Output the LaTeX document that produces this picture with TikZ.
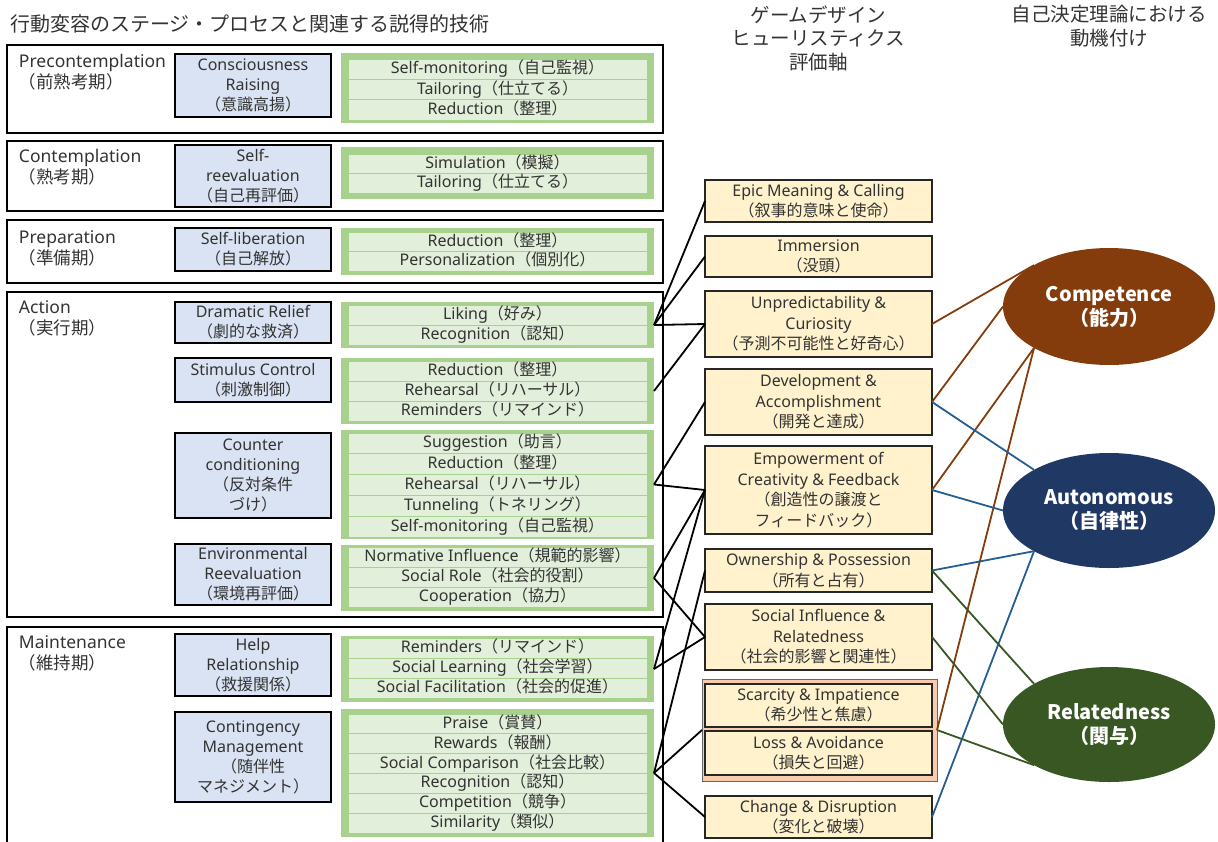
\documentclass[tikz,border=0pt]{standalone}
\usepackage{fontspec}
\setmainfont{Noto Sans}
\newfontfamily\latfont{Noto Sans}
\newfontfamily\jpfont{Noto Sans CJK JP}
\usetikzlibrary{shapes.geometric}
\XeTeXinterchartokenstate=1
\newXeTeXintercharclass\JPclass
\makeatletter
\newcount\jp@c
\def\jp@range#1#2{\jp@c=#1\relax\loop\XeTeXcharclass\jp@c=\JPclass\relax\ifnum\jp@c<#2\relax\advance\jp@c by 1\repeat}
\jp@range{"3000}{"30FF}
\jp@range{"4E00}{"9FFF}
\jp@range{"FF00}{"FFEF}
\makeatother
\XeTeXinterchartoks 0 \JPclass = {\jpfont}
\XeTeXinterchartoks 4095 \JPclass = {\jpfont}
\XeTeXinterchartoks \JPclass 0 = {\latfont}
\XeTeXinterchartoks \JPclass 4095 = {\latfont}

\definecolor{txtc}{HTML}{333333}
\definecolor{procfill}{HTML}{DAE3F3}
\definecolor{grpgreen}{HTML}{A9D18E}
\definecolor{rowgreen}{HTML}{E2EFDA}
\definecolor{gamefill}{HTML}{FFF2CC}
\definecolor{pairfill}{HTML}{F8CBAD}
\definecolor{compc}{HTML}{843C0C}
\definecolor{autoc}{HTML}{203864}
\definecolor{relc}{HTML}{385723}
\definecolor{bluelink}{HTML}{255E91}

\tikzset{
  every node/.style={text=txtc, inner sep=0pt, outer sep=0pt},
  stagebox/.style={draw=black, line width=1.6pt, minimum width=656pt},
  stagelbl/.style={anchor=north west, align=left, font=\fontsize{17.5}{21}\selectfont},
  procbox/.style={draw=black, line width=1.5pt, fill=procfill, minimum width=156pt, align=center, font=\fontsize{16}{20}\selectfont},
  grpbox/.style={fill=grpgreen, minimum width=313pt},
  rowbox/.style={fill=rowgreen, draw=grpgreen, line width=0.8pt, minimum width=299pt, font=\fontsize{16}{20}\selectfont, text height=12.5pt, text depth=3.5pt},
  gamebox/.style={draw=black!85, line width=1.5pt, fill=gamefill, minimum width=227pt, align=center, font=\fontsize{16}{20.5}\selectfont},
  pairbox/.style={draw=black!60, line width=1pt, fill=pairfill, minimum width=235pt},
  sdt/.style={ellipse, minimum width=212pt, text=white, align=center, font=\jpfont\bfseries\fontsize{20}{24}\selectfont},
  hdr/.style={align=center, font=\fontsize{19.5}{23.5}\selectfont},
  link/.style={line width=1.8pt, black},
  clink/.style={line width=1.8pt}
}

% #1 name, #2 outer top, #3 outer bottom, #4 inner top, #5 inner bottom, #6 rows, #7 texts
\newcommand\rowsgroup[7]{%
  \node[grpbox, minimum height={(#3-#2)*1pt}] (#1) at (497.5,{(#2+#3)/2}) {};
  \foreach \txt [count=\i] in {#7} {
    \node[rowbox, minimum height={(#5-#4)/#6*1pt}] (#1r\i) at (497.5,{#4+(\i-0.5)*(#5-#4)/#6}) {\txt};
  }
}

\begin{document}
\begin{tikzpicture}[x=1pt,y=-1pt]
\useasboundingbox (0,0) rectangle (1218,841);
\clip (0,0) rectangle (1218,841);

% headers
\node[anchor=base west, font=\fontsize{20}{24}\selectfont] (title) at (10,31.5) {行動変容のステージ・プロセスと関連する説得的技術};
\node[hdr] (hgame) at (818.5,38) {ゲームデザイン\\ヒューリスティクス\\評価軸};
\node[hdr] (hsdt) at (1109,26) {自己決定理論における\\動機付け};

% stage boxes
\node[stagebox, minimum height=88pt] (s1) at (335,89) {};
\node[stagebox, minimum height=70pt] (s2) at (335,176) {};
\node[stagebox, minimum height=63pt] (s3) at (335,251.5) {};
\node[stagebox, minimum height=325pt] (s4) at (335,454.5) {};
\node[stagebox, minimum height=243pt] (s5) at (335,748.5) {};

\node[stagelbl] (l1) at (19,54.5) {Precontemplation\\（前熟考期）};
\node[stagelbl] (l2) at (19,149.5) {Contemplation\\（熟考期）};
\node[stagelbl] (l3) at (19,231) {Preparation\\（準備期）};
\node[stagelbl] (l4) at (19,301) {Action\\（実行期）};
\node[stagelbl] (l5) at (19,636) {Maintenance\\（維持期）};

% processes
\node[procbox, minimum height=63pt] (p1) at (253,85.5) {Consciousness\\Raising\\（意識高揚）};
\node[procbox, minimum height=62pt] (p2) at (253,176) {Self-\\reevaluation\\（自己再評価）};
\node[procbox, minimum height=43pt] (p3) at (253,249.5) {Self-liberation\\（自己解放）};
\node[procbox, minimum height=41pt] (p4) at (253,322.5) {Dramatic Relief\\（劇的な救済）};
\node[procbox, minimum height=44pt] (p5) at (253,380) {Stimulus Control\\（刺激制御）};
\node[procbox, minimum height=85pt] (p6) at (253,475.5) {Counter\\conditioning\\（反対条件\\づけ）};
\node[procbox, minimum height=61pt] (p7) at (253,574.5) {Environmental\\Reevaluation\\（環境再評価）};
\node[procbox, minimum height=62pt] (p8) at (253,665) {Help\\Relationship\\（救援関係）};
\node[procbox, minimum height=90pt] (p9) at (253,757) {Contingency\\Management\\（随伴性\\マネジメント）};

% technique groups
\rowsgroup{g1}{53}{123}{59}{120}{3}{Self-monitoring（自己監視）,Tailoring（仕立てる）,Reduction（整理）}
\rowsgroup{g2}{147}{199}{154}{193}{2}{Simulation（模擬）,Tailoring（仕立てる）}
\rowsgroup{g3}{228}{275}{232}{271}{2}{Reduction（整理）,Personalization（個別化）}
\rowsgroup{g4}{302}{348}{305}{345}{2}{Liking（好み）,Recognition（認知）}
\rowsgroup{g5}{358}{424}{361}{421}{3}{Reduction（整理）,Rehearsal（リハーサル）,Reminders（リマインド）}
\rowsgroup{g6}{430}{539}{433}{537}{5}{Suggestion（助言）,Reduction（整理）,Rehearsal（リハーサル）,Tunneling（トネリング）,Self-monitoring（自己監視）}
\rowsgroup{g7}{545}{611}{547}{607}{3}{Normative Influence（規範的影響）,Social Role（社会的役割）,Cooperation（協力）}
\rowsgroup{g8}{636}{702}{638}{698}{3}{Reminders（リマインド）,Social Learning（社会学習）,Social Facilitation（社会的促進）}
\rowsgroup{g9}{709}{837}{714}{833}{6}{Praise（賞賛）,Rewards（報酬）,Social Comparison（社会比較）,Recognition（認知）,Competition（競争）,Similarity（類似）}

% game design heuristics
\node[gamebox, minimum height=42pt] (y1) at (818.5,201) {Epic Meaning \& Calling\\（叙事的意味と使命）};
\node[gamebox, minimum height=41pt] (y2) at (818.5,256.5) {Immersion\\（没頭）};
\node[gamebox, minimum height=66pt] (y3) at (818.5,324) {Unpredictability \&\\Curiosity\\（予測不可能性と好奇心）};
\node[gamebox, minimum height=66pt] (y4) at (818.5,402) {Development \&\\Accomplishment\\（開発と達成）};
\node[gamebox, minimum height=88pt] (y5) at (818.5,490) {Empowerment of\\Creativity \& Feedback\\（創造性の譲渡と\\フィードバック）};
\node[gamebox, minimum height=43pt] (y6) at (818.5,570.5) {Ownership \& Possession\\（所有と占有）};
\node[gamebox, minimum height=66pt] (y7) at (818.5,637) {Social Influence \&\\Relatedness\\（社会的影響と関連性）};
\node[pairbox, minimum height=102pt] (pair) at (819.5,730) {};
\node[gamebox, minimum height=43pt] (y8) at (818.5,705.5) {Scarcity \& Impatience\\（希少性と焦慮）};
\node[gamebox, minimum height=44pt] (y9) at (818.5,753) {Loss \& Avoidance\\（損失と回避）};
\node[gamebox, minimum height=42pt] (y10) at (818.5,817) {Change \& Disruption\\（変化と破壊）};

% SDT ellipses
\node[sdt, fill=compc, minimum height=117pt] (comp) at (1109,306.5) {Competence\\（能力）};
\node[sdt, fill=autoc, minimum height=115pt] (auto) at (1109,510.5) {Autonomous\\（自律性）};
\node[sdt, fill=relc, minimum height=115pt] (rel) at (1109,724.5) {Relatedness\\（関与）};

% black connectors
\draw[link] (g4.east) -- (y1.west);
\draw[link] (g4.east) -- (y2.west);
\draw[link] (g4.east) -- (y3.west);
\draw[link] (g5.east) -- (y3.west);
\draw[link] (g6.east) -- (y4.west);
\draw[link] (g6.east) -- (y5.west);
\draw[link] (g7.east) -- (y5.west);
\draw[link] (g7.east) -- (y7.west);
\draw[link] (g8.east) -- (y5.west);
\draw[link] (g8.east) -- (y7.west);
\draw[link] (g9.east) -- (y6.west);
\draw[link] (g9.east) -- (pair.west);
\draw[link] (g9.east) -- (y10.west);

% coloured connectors
\draw[clink, compc] (y3.east) -- (comp.north west);
\draw[clink, compc] (y4.east) -- (comp.west);
\draw[clink, compc] (y5.east) -- (comp.south west);
\draw[clink, compc] (pair.east) -- (comp.south west);
\draw[clink, bluelink] (y4.east) -- (auto.north west);
\draw[clink, bluelink] (y5.east) -- (auto.west);
\draw[clink, bluelink] (y6.east) -- (auto.south west);
\draw[clink, bluelink] (y10.east) -- (auto.south west);
\draw[clink, relc] (y6.east) -- (rel.north west);
\draw[clink, relc] (y7.east) -- (rel.west);
\draw[clink, relc] (pair.east) -- (rel.south west);
\end{tikzpicture}
\end{document}
